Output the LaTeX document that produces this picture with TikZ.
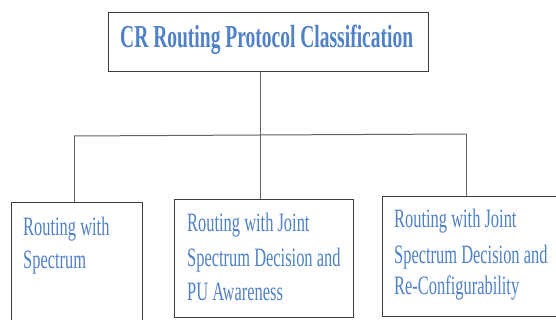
\documentclass[tikz,border=0pt]{standalone}
\usepackage{fontspec}
\setmainfont{Liberation Serif}
\definecolor{txtblue}{RGB}{79,129,199}
\definecolor{linegray}{RGB}{60,60,60}
\begin{document}
\begin{tikzpicture}[x=1pt,y=-1pt,
  box/.style={draw=linegray,line width=1.3pt,rectangle,inner sep=0pt,anchor=north west},
  conn/.style={draw=linegray!80,line width=1pt},
  lbl/.style={anchor=base west,inner sep=0pt,text=txtblue,font=\fontsize{26.5}{26.5}\selectfont},
  ttl/.style={anchor=base west,inner sep=0pt,text=txtblue,font=\fontsize{32}{32}\selectfont\bfseries}]
\useasboundingbox (0,0) rectangle (556,320);
\fill[white] (0,0) rectangle (556,320);
% boxes
\node[box,minimum width=320pt,minimum height=59pt] (top) at (108,12) {};
\node[box,minimum width=131pt,minimum height=125pt] (lb) at (11,202) {};
\node[box,minimum width=179pt,minimum height=118pt] (mb) at (174,199) {};
\node[box,minimum width=174pt,minimum height=120pt] (rb) at (382,196) {};
% texts
\node[ttl] (tt) at (120,48) {\scalebox{0.61}[1]{CR Routing Protocol Classification}};
\node[lbl] (l1) at (23,235) {\scalebox{0.62}[1]{Routing with}};
\node[lbl] (l2) at (23,268) {\scalebox{0.62}[1]{Spectrum}};
\node[lbl] (m1) at (187,232) {\scalebox{0.62}[1]{Routing with Joint}};
\node[lbl] (m2) at (187,266) {\scalebox{0.62}[1]{Spectrum Decision and}};
\node[lbl] (m3) at (187,300) {\scalebox{0.62}[1]{PU Awareness}};
\node[lbl] (r1) at (394,228) {\scalebox{0.62}[1]{Routing with Joint}};
\node[lbl] (r2) at (394,263) {\scalebox{0.62}[1]{Spectrum Decision and}};
\node[lbl] (r3) at (394,294) {\scalebox{0.62}[1]{Re-Configurability}};
% connectors
\coordinate (hub) at (260,135);
\coordinate (jl) at (74,136);
\coordinate (jr) at (466,134);
\draw[conn] (hub |- top.south) -- (hub);
\draw[conn] (jl) -- (hub) -- (jr);
\draw[conn] (jl) -- (jl |- lb.north);
\draw[conn] (hub) -- (hub |- mb.north);
\draw[conn] (jr) -- (jr |- rb.north);
\end{tikzpicture}
\end{document}
